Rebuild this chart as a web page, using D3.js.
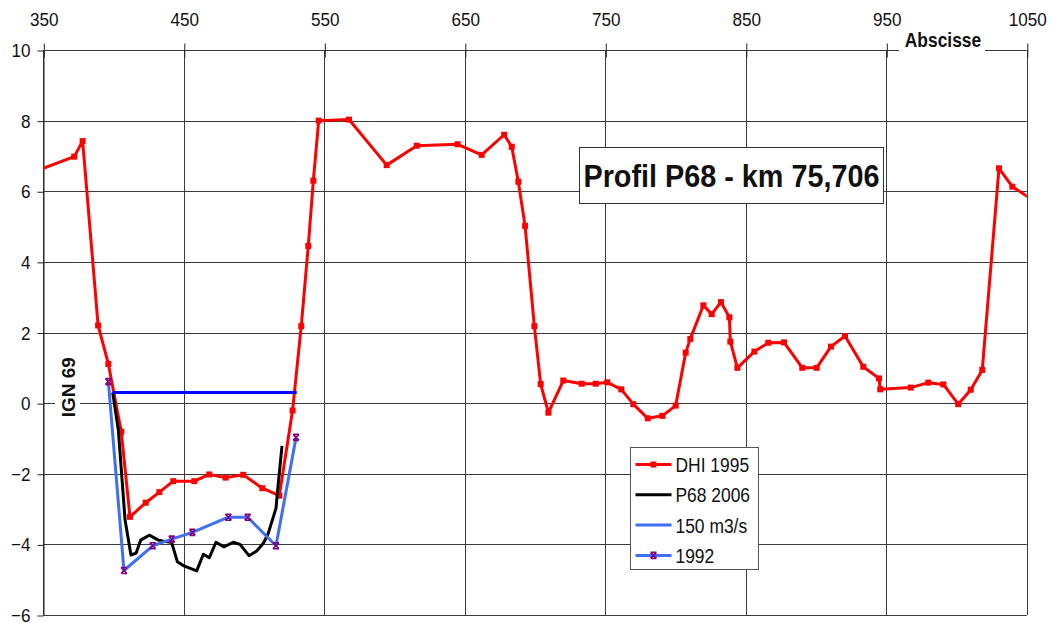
<!DOCTYPE html>
<html>
<head>
<meta charset="utf-8">
<script src="https://cdn.jsdelivr.net/npm/d3@7"></script>
<style>
  body { margin: 0; background: #fff; }
  svg { display: block; }
  text { font-family: "Liberation Sans", Arial, sans-serif; fill: #111; }
</style>
</head>
<body>
<svg id="chart"></svg>
<script>
const width = 1053;
const height = 623;

// axis ticks
const xTicks = [350, 450, 550, 650, 750, 850, 950, 1050];
const yTicks = [-6, -4, -2, 0, 2, 4, 6, 8, 10];

// DHI 1995 (red, square markers)
const dhiX = [340, 372, 378, 389, 396.3, 405.5, 411.7, 422.9, 432.6, 442.5, 457.5, 468.1, 479.8, 492.3, 505.9, 518, 527.4, 533.6, 538.6, 542.2, 546, 567.6, 594.4, 615.8, 644.9, 662, 678, 683.4, 688.1, 692.9, 699.5, 704, 709.5, 720.1, 733.2, 743.2, 751.4, 761.4, 769.9, 780.2, 790.6, 800.1, 807.2, 810.5, 819.8, 825.7, 832.3, 838.3, 839, 844, 856.1, 866, 877.2, 890.2, 900.4, 910.6, 920.6, 933.6, 944.8, 945.7, 967.4, 979.9, 990.6, 1001.2, 1010.1, 1018.3, 1030.2, 1039.7, 1060];
const dhiY = [6.5, 6.98, 7.42, 2.2, 1.11, -0.81, -3.22, -2.82, -2.52, -2.21, -2.21, -2.02, -2.11, -2.03, -2.41, -2.62, -0.21, 2.18, 4.45, 6.3, 8.0, 8.03, 6.74, 7.29, 7.33, 7.03, 7.6, 7.26, 6.27, 5.02, 2.18, 0.54, -0.27, 0.64, 0.55, 0.55, 0.59, 0.39, -0.03, -0.43, -0.36, -0.07, 1.43, 1.82, 2.77, 2.52, 2.86, 2.43, 1.74, 1.0, 1.46, 1.71, 1.72, 1.0, 1.0, 1.6, 1.9, 1.03, 0.7, 0.39, 0.44, 0.58, 0.53, -0.03, 0.38, 0.94, 6.65, 6.13, 5.6];

// P68 2006 (black)
const p68X = [399.4, 403.4, 408.2, 412.4, 416, 419.3, 425.4, 431.9, 441.4, 445.4, 449.6, 459.2, 463.9, 468.1, 472.9, 478.6, 485.2, 490, 496.4, 501.9, 506.6, 510.1, 515.6, 516.8, 519.9];
const p68Y = [0.3, -0.76, -3.31, -4.3, -4.25, -3.88, -3.74, -3.88, -3.95, -4.49, -4.6, -4.75, -4.28, -4.38, -3.94, -4.07, -3.94, -4.0, -4.32, -4.19, -3.97, -3.69, -2.98, -2.46, -1.21];

// 150 m3/s water level (blue)
const waterX = [399.4, 530.4];
const waterY = [0.3, 0.3];

// 1992 (light blue, purple star markers)
const y1992X = [396.3, 407.4, 427.9, 441.4, 456.1, 481.7, 495.5, 515.6, 529.9];
const y1992Y = [0.61, -4.74, -4.04, -3.85, -3.66, -3.23, -3.23, -4.04, -0.97];

const legendNames = ["DHI 1995", "P68 2006", "150 m3/s", "1992"];

const RED = "#ff0000";
const BLACK = "#000000";
const BLUE = "#0000ff";
const LIGHTBLUE = "#3f6ff2";
const PURPLE = "#800080";

const margin = { top: 50, right: 26.2, bottom: 8, left: 43.3 };

// squeeze a text horizontally (the original font is a narrow one)
function narrow(sel, s) {
  sel.each(function () {
    const t = d3.select(this);
    const x0 = +t.attr("x") || 0;
    t.attr("x", x0 / s).attr("transform", `scale(${s},1)`);
  });
}

const svg = d3.select("#chart").attr("width", width).attr("height", height);

const x = d3.scaleLinear().domain([350, 1050]).range([margin.left, width - margin.right]);
const y = d3.scaleLinear().domain([-6, 10]).range([height - margin.bottom, margin.top]);

svg.append("defs").append("clipPath").attr("id", "plot-clip")
  .append("rect")
  .attr("x", x(350)).attr("y", y(10))
  .attr("width", x(1050) - x(350)).attr("height", y(-6) - y(10));

// gridlines
const grid = svg.append("g").attr("stroke", "#3a3a3a").attr("stroke-width", 1);
grid.selectAll("line.h").data(yTicks).enter().append("line")
  .attr("x1", x(350)).attr("x2", x(1050))
  .attr("y1", (d) => Math.round(y(d)) + 0.5).attr("y2", (d) => Math.round(y(d)) + 0.5);
grid.selectAll("line.v").data(xTicks).enter().append("line")
  .attr("x1", (d) => Math.round(x(d)) + 0.5).attr("x2", (d) => Math.round(x(d)) + 0.5)
  .attr("y1", y(10)).attr("y2", y(-6));

// axes
const xAxis = d3.axisTop(x).tickValues(xTicks).tickFormat(d3.format("d"))
  .tickSize(7).tickSizeOuter(0).tickPadding(18);
const gx = svg.append("g").attr("transform", `translate(0.5, ${Math.round(y(10)) + 0.5})`).call(xAxis);
gx.select(".domain").remove();
gx.selectAll(".tick line").attr("y1", 7).attr("stroke", "#222");
gx.selectAll(".tick text").attr("font-size", "19px").attr("fill", "#111")
  .attr("font-family", "Liberation Sans, Arial, sans-serif").call(narrow, 0.9);

const yAxis = d3.axisLeft(y).tickValues(yTicks).tickSize(6).tickSizeOuter(0).tickPadding(7);
const gy = svg.append("g").attr("transform", `translate(${Math.round(x(350)) + 0.5}, 0.5)`).call(yAxis);
gy.select(".domain").attr("stroke", "#222");
gy.selectAll(".tick line").attr("stroke", "#222");
gy.selectAll(".tick text").attr("font-size", "19px").attr("fill", "#111")
  .attr("font-family", "Liberation Sans, Arial, sans-serif").call(narrow, 0.9);

// axis titles with white background
const absc = svg.append("g");
absc.append("rect").attr("x", 899).attr("y", 28).attr("width", 86).attr("height", 25).attr("fill", "#fff");
absc.append("text").attr("x", 943).attr("y", 47)
  .attr("text-anchor", "middle").attr("font-weight", "bold").attr("font-size", "20px")
  .text("Abscisse").call(narrow, 0.87);

const ign = svg.append("g");
ign.append("rect").attr("x", 55).attr("y", y(1.5)).attr("width", 25).attr("height", y(-1.1) - y(1.5)).attr("fill", "#fff");
ign.append("text").attr("transform", `translate(75, ${y(0.45)}) rotate(-90)`)
  .attr("text-anchor", "middle").attr("font-weight", "bold").attr("font-size", "19px")
  .text("IGN 69");

// series
const plot = svg.append("g").attr("clip-path", "url(#plot-clip)");
const line = d3.line().x((d) => x(d[0])).y((d) => y(d[1]));

const dhi = d3.zip(dhiX, dhiY);
const p68 = d3.zip(p68X, p68Y);
const water = d3.zip(waterX, waterY);
const s1992 = d3.zip(y1992X, y1992Y);

plot.append("path").datum(dhi).attr("d", line).attr("fill", "none")
  .attr("stroke", RED).attr("stroke-width", 3).attr("stroke-linejoin", "round");
plot.selectAll("rect.dhi").data(dhi).enter().append("rect")
  .attr("x", (d) => x(d[0]) - 3).attr("y", (d) => y(d[1]) - 3)
  .attr("width", 6).attr("height", 6).attr("fill", RED);

plot.append("path").datum(p68).attr("d", line).attr("fill", "none")
  .attr("stroke", BLACK).attr("stroke-width", 3).attr("stroke-linejoin", "round");

plot.append("path").datum(water).attr("d", line).attr("fill", "none")
  .attr("stroke", BLUE).attr("stroke-width", 3);

const starPath = "M-3,-3L3,3M3,-3L-3,3M-3,-3L3,-3M-3,3L3,3";
plot.append("path").datum(s1992).attr("d", line).attr("fill", "none")
  .attr("stroke", LIGHTBLUE).attr("stroke-width", 3).attr("stroke-linejoin", "round");
plot.selectAll("path.star").data(s1992).enter().append("path")
  .attr("transform", (d) => `translate(${x(d[0])}, ${y(d[1])})`)
  .attr("d", starPath).attr("fill", "none").attr("stroke", PURPLE).attr("stroke-width", 1.6);

// title box
const title = svg.append("g");
title.append("rect").attr("x", 579.5).attr("y", 147.5).attr("width", 304).attr("height", 56)
  .attr("fill", "#fff").attr("stroke", "#333");
title.append("text").attr("x", 731.5).attr("y", 187).attr("text-anchor", "middle")
  .attr("font-weight", "bold").attr("font-size", "32px").text("Profil P68 - km 75,706")
  .call(narrow, 0.9);

// legend
const legendColors = [RED, BLACK, LIGHTBLUE, LIGHTBLUE];
const legend = svg.append("g").attr("transform", "translate(630.5, 447.5)");
legend.append("rect").attr("width", 128).attr("height", 122).attr("fill", "#fff").attr("stroke", "#555");
const item = legend.selectAll("g.item").data(legendNames).enter().append("g")
  .attr("transform", (d, i) => `translate(0, ${17 + i * 30.3})`);
item.append("line").attr("x1", 5).attr("x2", 41).attr("stroke", (d, i) => legendColors[i]).attr("stroke-width", 3);
item.append("text").attr("x", 45).attr("y", 7.5).attr("font-size", "21px").text((d) => d)
  .call(narrow, 0.83);
legend.select("g").append("rect").attr("x", 20).attr("y", -3).attr("width", 6).attr("height", 6).attr("fill", RED);
d3.select(legend.selectAll("g").nodes()[3]).append("path").attr("transform", "translate(23,0)")
  .attr("d", starPath).attr("fill", "none").attr("stroke", PURPLE).attr("stroke-width", 1.6);
</script>
</body>
</html>
